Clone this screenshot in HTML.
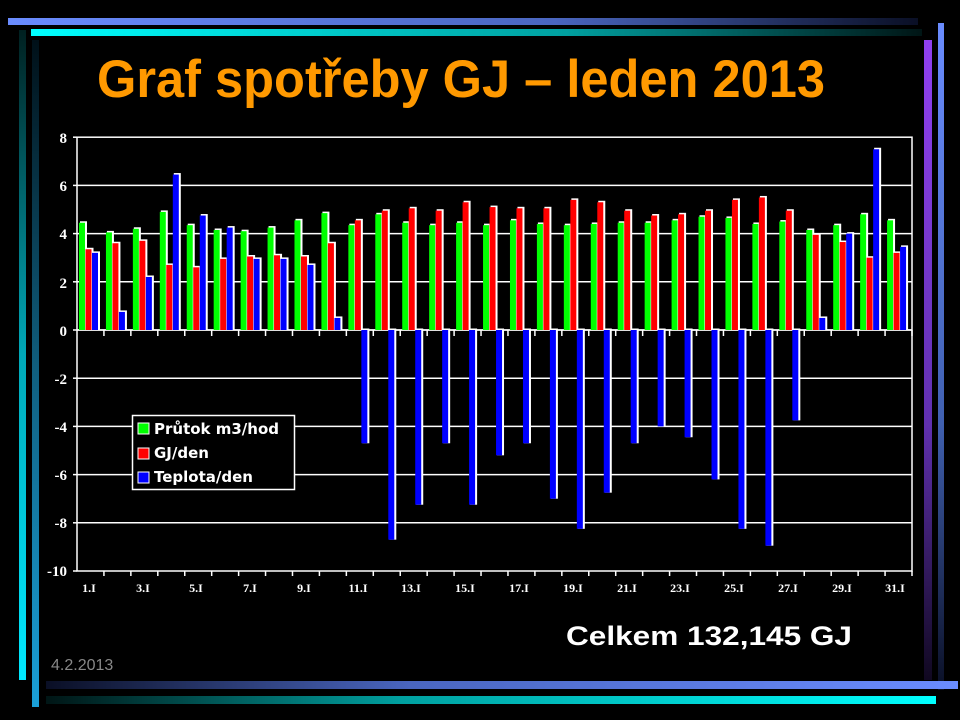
<!DOCTYPE html>
<html><head><meta charset="utf-8"><style>
html,body{margin:0;padding:0;background:#000;width:960px;height:720px;overflow:hidden}
svg{display:block}
</style></head><body>
<svg id="s" width="960" height="720" xmlns="http://www.w3.org/2000/svg">
<defs>
<linearGradient id="gb" x1="0" x2="1"><stop offset="0" stop-color="#6a8cff"/><stop offset="0.6" stop-color="#4a66c0"/><stop offset="1" stop-color="#0a0f25"/></linearGradient>
<linearGradient id="gc" x1="0" x2="1"><stop offset="0" stop-color="#00ffff"/><stop offset="0.6" stop-color="#00a0a0"/><stop offset="1" stop-color="#001515"/></linearGradient>
<linearGradient id="gb2" x1="1" x2="0"><stop offset="0" stop-color="#6a8cff"/><stop offset="0.6" stop-color="#4a66c0"/><stop offset="1" stop-color="#0a0f25"/></linearGradient>
<linearGradient id="gc2" x1="1" x2="0"><stop offset="0" stop-color="#00ffff"/><stop offset="0.6" stop-color="#00a0a0"/><stop offset="1" stop-color="#001515"/></linearGradient>
<linearGradient id="vc" x1="0" y1="1" x2="0" y2="0"><stop offset="0" stop-color="#00e8ff"/><stop offset="0.5" stop-color="#00a8b8"/><stop offset="1" stop-color="#002020"/></linearGradient>
<linearGradient id="vb" x1="0" y1="1" x2="0" y2="0"><stop offset="0" stop-color="#1aa0d8"/><stop offset="0.5" stop-color="#106080"/><stop offset="1" stop-color="#001018"/></linearGradient>
<linearGradient id="vp" x1="0" y1="0" x2="0" y2="1"><stop offset="0" stop-color="#9040f0"/><stop offset="0.6" stop-color="#6030b0"/><stop offset="1" stop-color="#100820"/></linearGradient>
<linearGradient id="vl" x1="0" y1="0" x2="0" y2="1"><stop offset="0" stop-color="#6a8cff"/><stop offset="0.6" stop-color="#4060b0"/><stop offset="1" stop-color="#0a0f25"/></linearGradient>
</defs>
<rect x="8" y="18" width="910" height="7" fill="url(#gb)"/>
<rect x="31" y="29" width="891" height="7" fill="url(#gc)"/>
<rect x="19" y="30" width="7" height="650" fill="url(#vc)"/>
<rect x="32" y="40" width="7" height="667" fill="url(#vb)"/>
<rect x="924" y="40" width="8" height="640" fill="url(#vp)"/>
<rect x="938" y="23" width="6" height="667" fill="url(#vl)"/>
<rect x="46" y="681" width="912" height="8" fill="url(#gb2)"/>
<rect x="46" y="696" width="890" height="8" fill="url(#gc2)"/>
<text x="97" y="97" fill="#ff9900" font-family="Liberation Sans, sans-serif" font-weight="bold" font-size="53" textLength="728" lengthAdjust="spacingAndGlyphs">Graf spotřeby GJ – leden 2013</text>
<g id="grid" stroke="#fff" stroke-width="1.5" fill="none"></g>
<g id="bars"></g>
<g fill="#fff" font-family="Liberation Serif, serif" font-weight="bold" font-size="15" text-anchor="end">
<text x="67" y="143">8</text><text x="67" y="191">6</text><text x="67" y="239">4</text><text x="67" y="288">2</text><text x="67" y="336">0</text><text x="67" y="384">-2</text><text x="67" y="432">-4</text><text x="67" y="480">-6</text><text x="67" y="528">-8</text><text x="67" y="576">-10</text>
</g>
<g fill="#fff" font-family="Liberation Serif, serif" font-weight="bold" font-size="12" text-anchor="middle">
<text x="89" y="592">1.I</text><text x="143" y="592">3.I</text><text x="196" y="592">5.I</text><text x="250" y="592">7.I</text><text x="304" y="592">9.I</text><text x="358" y="592">11.I</text><text x="411" y="592">13.I</text><text x="465" y="592">15.I</text><text x="519" y="592">17.I</text><text x="573" y="592">19.I</text><text x="627" y="592">21.I</text><text x="680" y="592">23.I</text><text x="734" y="592">25.I</text><text x="788" y="592">27.I</text><text x="842" y="592">29.I</text><text x="895" y="592">31.I</text>
</g>
<rect x="132.5" y="415.5" width="162" height="74" fill="#000" stroke="#fff" stroke-width="1.5"/>
<rect x="138" y="423" width="11" height="11" fill="#00ff00" stroke="#fff"/>
<rect x="138" y="448" width="11" height="11" fill="#ff0000" stroke="#fff"/>
<rect x="138" y="472" width="11" height="11" fill="#0000ff" stroke="#fff"/>
<g fill="#fff" font-family="DejaVu Sans, sans-serif" font-weight="bold" font-size="15">
<text x="154" y="434">Průtok m3/hod</text><text x="154" y="458">GJ/den</text><text x="154" y="482">Teplota/den</text>
</g>
<text x="566" y="645" fill="#fff" font-family="Liberation Sans, sans-serif" font-weight="bold" font-size="27" textLength="286" lengthAdjust="spacingAndGlyphs">Celkem 132,145 GJ</text>
<text x="51" y="670" fill="#888" font-family="Liberation Sans, sans-serif" font-size="16">4.2.2013</text>
</svg>
<script>
var NS="http://www.w3.org/2000/svg";
function el(p,t,a){var e=document.createElementNS(NS,t);for(var k in a)e.setAttribute(k,a[k]);p.appendChild(e);return e;}
var g=document.getElementById('grid'),b=document.getElementById('bars');
var X0=77,X1=912,Y0=330,S=24.1;
function Y(v){return Y0-v*S;}
el(g,'rect',{x:X0,y:Y(8),width:X1-X0,height:Y(-10)-Y(8)});
for(var v=-8;v<=6;v+=2){el(g,'line',{x1:X0,x2:X1,y1:Y(v),y2:Y(v)});}
el(g,'line',{x1:X0,x2:X1,y1:Y0,y2:Y0});
for(var v=-10;v<=8;v+=2){el(g,'line',{x1:X0-4,x2:X0,y1:Y(v),y2:Y(v)});}
var gr=[4.45,4.05,4.2,4.9,4.35,4.15,4.1,4.25,4.55,4.85,4.35,4.8,4.45,4.35,4.45,4.35,4.55,4.4,4.35,4.4,4.45,4.45,4.55,4.7,4.65,4.4,4.5,4.15,4.35,4.8,4.55];
var rd=[3.35,3.6,3.7,2.7,2.6,2.95,3.05,3.1,3.05,3.6,4.55,4.95,5.05,4.95,5.3,5.1,5.05,5.05,5.4,5.3,4.95,4.75,4.8,4.95,5.4,5.5,4.95,3.95,3.65,3.0,3.2];
var bl=[3.2,0.75,2.2,6.45,4.75,4.25,2.95,2.95,2.7,0.5,-4.7,-8.7,-7.25,-4.7,-7.25,-5.2,-4.7,-7.0,-8.25,-6.75,-4.7,-4.0,-4.45,-6.2,-8.25,-8.95,-3.75,0.5,4.0,7.5,3.45];
var W=(X1-X0)/31;
function bar(x,v,c){var y=Math.min(Y(v),Y0),h=Math.abs(Y(v)-Y0);
el(b,'rect',{x:x+1,y:y-1.5,width:7,height:h+1.5,fill:'#fff'});
el(b,'rect',{x:x,y:y,width:6,height:h,fill:c});}
for(var i=0;i<31;i++){var x=X0+2+i*W;
bar(x,gr[i],'#00ff00');bar(x+6.5,rd[i],'#ff0000');bar(x+13,bl[i],'#0000ff');
el(g,'line',{x1:X0+(i+1)*W,x2:X0+(i+1)*W,y1:Y0,y2:Y0+6});
el(g,'line',{x1:X0+(i+1)*W,x2:X0+(i+1)*W,y1:Y(-10),y2:Y(-10)+5});}
</script>
</body></html>
